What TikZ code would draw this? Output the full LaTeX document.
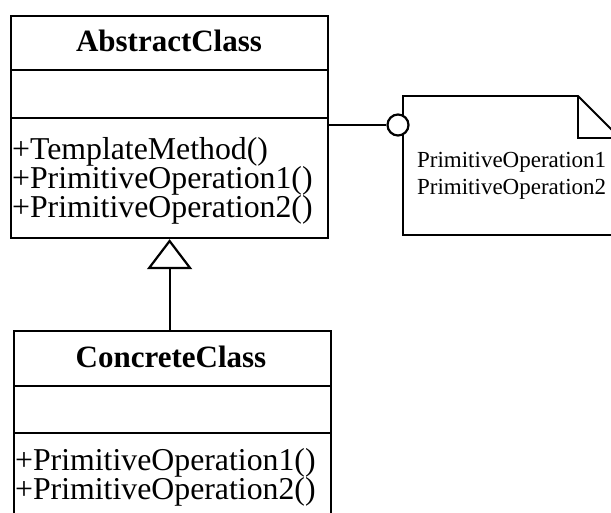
\documentclass[tikz,border=0pt]{standalone}
\usepackage{fontspec}
\setmainfont{Liberation Serif}
\usetikzlibrary{arrows.meta}
\tikzset{
  umlbox/.style={draw, inner sep=0pt, anchor=north west, minimum width=317pt},
  headtxt/.style={anchor=base, inner sep=0pt, font=\fontsize{31}{31}\selectfont\bfseries},
  optxt/.style={anchor=base west, inner sep=0pt, font=\fontsize{31.8}{31.8}\selectfont},
  notetxt/.style={anchor=base west, inner sep=0pt, font=\fontsize{23}{23}\selectfont},
  gen/.style={-{Triangle[open, length=30pt, width=45pt, line width=2.2pt]}},
}
\begin{document}
\begin{tikzpicture}[x=1pt, y=-1pt, line width=2.2pt, line join=miter]
\useasboundingbox (0,0) rectangle (611,513);
\clip (0,0) rectangle (611,513);

% AbstractClass
\node[umlbox, minimum height=222pt] (abs) at (10,15) {};
\coordinate (ad1) at (0,70);
\coordinate (ad2) at (0,118);
\draw (abs.west |- ad1) -- (abs.east |- ad1);
\draw (abs.west |- ad2) -- (abs.east |- ad2);
\node[headtxt] (absname) at (169,52) {AbstractClass};
\node[optxt] (absop1) at (11,160) {+TemplateMethod()};
\node[optxt] (absop2) at (11,189) {+PrimitiveOperation1()};
\node[optxt] (absop3) at (11,218) {+PrimitiveOperation2()};

% ConcreteClass
\node[umlbox, minimum height=220pt] (con) at (13,330) {};
\coordinate (cd1) at (0,386);
\coordinate (cd2) at (0,433);
\draw (con.west |- cd1) -- (con.east |- cd1);
\draw (con.west |- cd2) -- (con.east |- cd2);
\node[headtxt] (conname) at (171,367) {ConcreteClass};
\node[optxt] (conop1) at (14,470) {+PrimitiveOperation1()};
\node[optxt] (conop2) at (14,499) {+PrimitiveOperation2()};

% generalization
\draw[gen] (con.north -| abs.south) -- (abs.south);

% note
\coordinate (ntl) at (403,96);
\coordinate (nfold) at (578,96);
\coordinate (nfoldb) at (578,138);
\coordinate (ntr) at (620,138);
\coordinate (nbr) at (620,235);
\coordinate (nbl) at (403,235);
\draw[line width=1.8pt] (ntl) -- (nfold) -- (ntr) -- (nbr) -- (nbl) -- cycle;
\draw[line width=1.8pt] (nfold) -- (nfoldb) -- (ntr);
\node[notetxt] (note1) at (416,168) {PrimitiveOperation1};
\node[notetxt] (note2) at (416,195) {PrimitiveOperation2};

% lollipop connector
\node[circle, draw, fill=white, minimum size=21pt, inner sep=0pt] (lolli) at (398,125) {};
\draw (abs.east |- lolli) -- (lolli.west);
\end{tikzpicture}
\end{document}
